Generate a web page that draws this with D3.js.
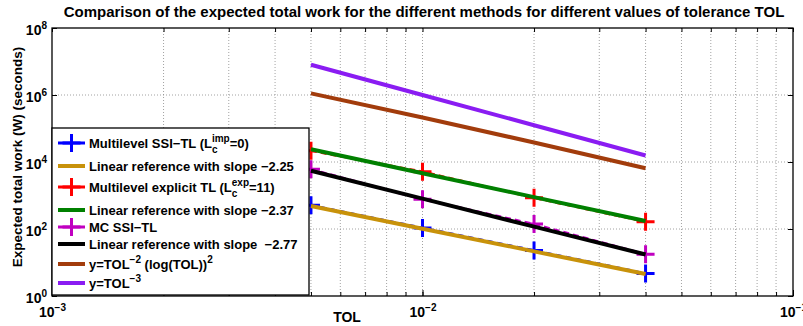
<!DOCTYPE html>
<html>
<head>
<meta charset="utf-8">
<script src="https://cdn.jsdelivr.net/npm/d3@7"></script>
<style>
body{margin:0;background:#fff;}
svg text{font-family:"Liberation Sans",Arial,sans-serif;font-weight:bold;fill:#000;}
</style>
</head>
<body>
<script>
// tolerances on the x axis
let tolVals=[0.005,0.01,0.02,0.04];

// measured work (markers + dashed line)
let ssiTL=[510,108,23,4.7];
let explicitTL=[21700,5130,850,165];
let mcSSI=[6040,771,140,17.6];

// reference lines
let ref225=[486,102,21.5,4.52];
let ref237=[23900,4620,894,173];
let ref277=[5500,806,118,17.3];
let tolLogSq=[1.12e6,2.12e5,3.83e4,6.48e3];
let tolCube=[8e6,1e6,1.25e5,1.56e4];

let xMajor=[1e-3,1e-2,1e-1];
let yMajor=[1,1e2,1e4,1e6,1e8];
let yGrid=[1e2,1e4,1e6];

let series=[
  {vals:ssiTL,color:"#0000ff",kind:"data",label:[{t:"Multilevel SSI\u2212TL (L"},{sub:"c",sup:"imp"},{t:"=0)"}]},
  {vals:ref225,color:"#c8920a",kind:"ref",label:[{t:"Linear reference with slope \u22122.25"}]},
  {vals:explicitTL,color:"#ff0000",kind:"data",label:[{t:"Multilevel explicit TL (L"},{sub:"c",sup:"exp"},{t:"=11)"}]},
  {vals:ref237,color:"#008000",kind:"ref",label:[{t:"Linear reference with slope \u22122.37"}]},
  {vals:mcSSI,color:"#c000c0",kind:"data",label:[{t:"MC SSI\u2212TL"}]},
  {vals:ref277,color:"#000000",kind:"ref",label:[{t:"Linear reference with slope \u00a0\u22122.77"}]},
  {vals:tolLogSq,color:"#a23c0c",kind:"ref",label:[{t:"y=TOL"},{sup:"\u22122"},{t:" (log(TOL))"},{sup:"2"}]},
  {vals:tolCube,color:"#8a1cf2",kind:"ref",label:[{t:"y=TOL"},{sup:"\u22123"}]}
];

let W=803,H=326;
let pad_l=52,pad_r=10,pad_t=28,pad_b=30;

let svg=d3.select("body").append("svg").attr("width",W).attr("height",H);

let x=d3.scaleLog().domain([1e-3,1e-1]).range([pad_l,W-pad_r]);
let y=d3.scaleLog().domain([1,1e8]).range([H-pad_b,pad_t]);

// grid
let gridX=x.ticks().filter(d=>d>1e-3&&d<1e-1);
svg.append("g").selectAll("line").data(gridX).enter().append("line")
  .attr("x1",d=>x(d)).attr("x2",d=>x(d)).attr("y1",pad_t).attr("y2",H-pad_b)
  .attr("stroke","#8a8a8a").attr("stroke-width",0.8).attr("stroke-dasharray","1,2");
svg.append("g").selectAll("line").data(yGrid).enter().append("line")
  .attr("x1",pad_l).attr("x2",W-pad_r).attr("y1",d=>y(d)).attr("y2",d=>y(d))
  .attr("stroke","#8a8a8a").attr("stroke-width",0.8).attr("stroke-dasharray","1,2");

// axes
function supLabel(sel,expFn){
  sel.selectAll("text").text("10").style("font-size","14px")
    .append("tspan").attr("dy","-0.55em").style("font-size","10px").text(expFn);
}
svg.append("g").attr("transform","translate(0,"+(H-pad_b)+")")
  .call(d3.axisBottom(x).tickValues(x.ticks()).tickSize(-4).tickFormat(""));
let xl=svg.append("g").attr("transform","translate(0,"+(H-pad_b)+")")
  .call(d3.axisBottom(x).tickValues(xMajor).tickSize(-6).tickPadding(11));
supLabel(xl,d=>"\u2212"+Math.round(-Math.log10(d)));
svg.append("g").attr("transform","translate(0,"+pad_t+")")
  .call(d3.axisTop(x).tickValues(x.ticks()).tickSize(-4).tickFormat(""));
let yl=svg.append("g").attr("transform","translate("+pad_l+",0)")
  .call(d3.axisLeft(y).tickValues(yMajor).tickSize(-5).tickPadding(5));
supLabel(yl,d=>""+Math.round(Math.log10(d)));
yl.selectAll("text").attr("dy","0.45em");
svg.append("g").attr("transform","translate("+(W-pad_r)+",0)")
  .call(d3.axisRight(y).tickValues(yMajor).tickSize(-5).tickFormat(""));
svg.selectAll(".domain").remove();
svg.selectAll(".tick line").attr("stroke","#000");
svg.append("rect").attr("x",pad_l).attr("y",pad_t).attr("width",W-pad_l-pad_r).attr("height",H-pad_t-pad_b)
  .attr("fill","none").attr("stroke","#000").attr("stroke-width",1.3);

// lines and markers
let line=d3.line().x((d,i)=>x(tolVals[i])).y(d=>y(d));
let arm=9;
series.forEach(s=>{
  let g=svg.append("g");
  g.append("path").attr("d",line(s.vals)).attr("fill","none").attr("stroke",s.color)
    .attr("stroke-width",s.kind=="data"?2.5:4).attr("stroke-dasharray",s.kind=="data"?"6,4":null);
  if(s.kind=="data"){
    g.selectAll("path.mk").data(s.vals).enter().append("path").attr("class","mk")
      .attr("d",(d,i)=>{let px=x(tolVals[i]),py=y(d);return "M"+(px-arm)+","+py+"H"+(px+arm)+"M"+px+","+(py-arm)+"V"+(py+arm);})
      .attr("stroke",s.color).attr("stroke-width",3).attr("fill","none");
  }
});

// legend
let legX=52,legY=128,legW=257,legH=167;
let rowY=[143,166,187,210,227,244,264,283];
let leg=svg.append("g");
leg.append("rect").attr("x",legX).attr("y",legY).attr("width",legW).attr("height",legH)
  .attr("fill","#fff").attr("stroke","#000").attr("stroke-width",1.3);
series.forEach((s,k)=>{
  let cy=rowY[k];
  leg.append("line").attr("x1",58).attr("x2",85).attr("y1",cy).attr("y2",cy).attr("stroke",s.color)
    .attr("stroke-width",s.kind=="data"?3:4);
  if(s.kind=="data"){
    leg.append("path").attr("d","M"+(71.5-arm)+","+cy+"H"+(71.5+arm)+"M71.5,"+(cy-arm)+"V"+(cy+arm))
      .attr("stroke",s.color).attr("stroke-width",3);
  }
  let tx=89;
  let txt=leg.append("text").attr("x",tx).attr("y",cy+4.5).style("font-size","13px");
  let pend=0,penX=null;
  s.label.forEach(p=>{
    if(p.t!=null){
      let ts=txt.append("tspan").text(p.t).style("white-space","pre");
      if(pend){ts.attr("dy",pend);pend=0;}
      if(penX!=null){ts.attr("x",penX);penX=null;}
    } else if(p.sub!=null){
      let w=txt.node().getComputedTextLength();
      let a=txt.append("tspan").attr("x",tx+w).attr("dy",-6).style("font-size","10px").text(p.sup);
      let wa=a.node().getComputedTextLength();
      let b=txt.append("tspan").attr("x",tx+w).attr("dy",11).style("font-size","10px").text(p.sub);
      let wb=b.node().getComputedTextLength();
      penX=tx+w+Math.max(wa,wb);
      pend=-5;
    } else {
      txt.append("tspan").attr("dy",-6).style("font-size","10px").text(p.sup);
      pend=6;
    }
  });
});

// titles
svg.append("text").attr("x",424).attr("y",17).attr("text-anchor","middle").style("font-size","15px")
  .text("Comparison of the expected total work for the different methods for different values of tolerance TOL");
svg.append("text").attr("x",347).attr("y",322).attr("text-anchor","middle").style("font-size","14px").text("TOL");
svg.append("text").attr("transform","translate(22,157) rotate(-90)").attr("text-anchor","middle")
  .style("font-size","13.5px").text("Expected total work (W) (seconds)");
</script>
</body>
</html>
